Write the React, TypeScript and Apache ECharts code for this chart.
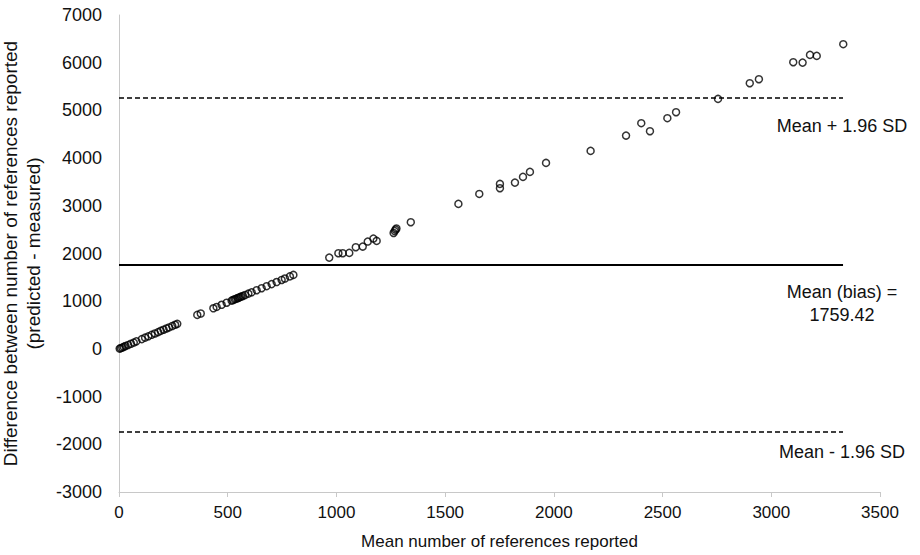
import React, { useEffect, useRef } from "react";
import * as echarts from "echarts";

// Mean number of references reported (x) and difference predicted - measured (y)
const meanVals = [
  3, 8, 15, 22, 30, 42, 55, 68, 80, 105, 120, 135, 150, 165, 180, 192, 205, 218, 230, 245, 258, 268,
  360, 376, 434, 449, 472, 495, 518, 525, 532, 538, 545, 550, 556, 562, 570, 580, 595, 610, 633, 656, 679, 702, 725, 748, 763, 786, 802,
  967, 1009, 1029, 1059, 1089, 1121, 1144, 1170, 1185, 1263, 1268, 1272, 1276, 1342, 1561, 1657, 1752, 1752, 1821, 1858, 1890, 1964,
  2169, 2332, 2402, 2442, 2522, 2562, 2755, 2901, 2943, 3101, 3144, 3178, 3209, 3331,
];
const diffVals = [
  6, 15, 28, 42, 60, 82, 108, 133, 158, 205, 236, 264, 295, 324, 352, 378, 402, 428, 450, 480, 506, 525,
  713, 742, 852, 880, 925, 968, 1012, 1025, 1040, 1050, 1063, 1072, 1085, 1095, 1110, 1130, 1158, 1186, 1230, 1272, 1315, 1358, 1402, 1445, 1475, 1520, 1551,
  1914, 2006, 2006, 2013, 2132, 2145, 2250, 2313, 2264, 2430, 2470, 2500, 2525, 2656, 3040, 3249, 3369, 3459, 3486, 3606, 3711, 3899,
  4151, 4472, 4732, 4564, 4837, 4962, 5241, 5570, 5654, 6010, 6002, 6164, 6143, 6388,
];

const biasValue = 1759.42;
const upperLimit = 5259.42;
const lowerLimit = -1740.58;
const lineSpanX = [0, 3330];

const xTicks = { min: 0, max: 3500, interval: 500 };
const yTicks = { min: -3000, max: 7000, interval: 1000 };

const labelUpper = "Mean + 1.96 SD";
const labelBias = "Mean (bias) =\n1759.42";
const labelLower = "Mean - 1.96 SD";

const FONT = "Liberation Sans, Arial, sans-serif";
const TEXT = "#111111";

export default function App() {
  const ref = useRef<HTMLDivElement>(null);
  useEffect(() => {
    if (!ref.current) return;
    const chart = echarts.init(ref.current, null, { renderer: "svg" });
    const points = meanVals.map((m, i) => [m, diffVals[i]]);
    const hline = (v: number) => lineSpanX.map((x) => [x, v]);
    chart.setOption({
      animation: false,
      backgroundColor: "#ffffff",
      textStyle: { fontFamily: FONT },
      grid: { left: 119, right: 40, top: 15, bottom: 63, outerBoundsMode: "none", containLabel: false },
      xAxis: {
        type: "value",
        min: xTicks.min,
        max: xTicks.max,
        interval: xTicks.interval,
        name: "Mean number of references reported",
        nameLocation: "middle",
        nameGap: 41,
        nameTextStyle: { fontFamily: FONT, fontSize: 17, color: TEXT },
        axisLine: { show: true, onZero: false, lineStyle: { color: "#c8c8c8", width: 1 } },
        axisTick: { show: true, length: 5, lineStyle: { color: "#c8c8c8" } },
        splitLine: { show: false },
        axisLabel: { fontFamily: FONT, fontSize: 17, color: TEXT, margin: 12, formatter: (v: number) => String(v) },
      },
      yAxis: {
        type: "value",
        min: yTicks.min,
        max: yTicks.max,
        interval: yTicks.interval,
        name: "Difference between number of references reported\n(predicted - measured)",
        nameLocation: "middle",
        nameRotate: 90,
        nameGap: 70,
        nameTextStyle: { fontFamily: FONT, fontSize: 19, color: TEXT, lineHeight: 23 },
        axisLine: { show: true, onZero: false, lineStyle: { color: "#c8c8c8", width: 1 } },
        axisTick: { show: false },
        splitLine: { show: false },
        axisLabel: { fontFamily: FONT, fontSize: 18, color: TEXT, margin: 17, formatter: (v: number) => String(v) },
      },
      graphic: [
        { type: "text", x: 842, y: 126, style: { text: labelUpper, font: `18px ${FONT}`, fill: TEXT, align: "center", verticalAlign: "middle" } },
        { type: "text", x: 842, y: 303, style: { text: labelBias, font: `18px ${FONT}`, fill: TEXT, align: "center", verticalAlign: "middle", lineHeight: 23 } },
        { type: "text", x: 842, y: 452, style: { text: labelLower, font: `18px ${FONT}`, fill: TEXT, align: "center", verticalAlign: "middle" } },
      ],
      series: [
        {
          type: "line",
          data: hline(biasValue),
          symbol: "none",
          lineStyle: { color: "#000", width: 2, type: "solid" },
          z: 2,
        },
        {
          type: "line",
          data: hline(upperLimit),
          symbol: "none",
          lineStyle: { color: "#000", width: 1.6, type: [5, 3] },
          z: 2,
        },
        {
          type: "line",
          data: hline(lowerLimit),
          symbol: "none",
          lineStyle: { color: "#000", width: 1.6, type: [5, 3] },
          z: 2,
        },
        {
          type: "scatter",
          data: points,
          symbol: "circle",
          symbolSize: 7,
          itemStyle: { color: "transparent", borderColor: "#000", borderWidth: 1.5 },
          z: 3,
        },
      ],
    });
    return () => chart.dispose();
  }, []);
  return <div ref={ref} style={{ position: "fixed", left: 0, top: 0, width: 920, height: 555 }} />;
}
